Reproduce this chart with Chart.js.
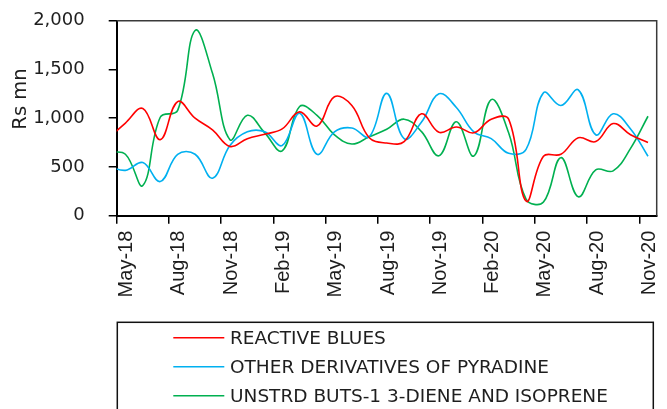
<!DOCTYPE html>
<html>
<head>
<meta charset="utf-8">
<script src="https://cdn.jsdelivr.net/npm/chart.js@4/dist/chart.umd.min.js"></script>
<style>
  html, body { margin: 0; padding: 0; background: #ffffff; }
  #wrap { width: 667px; height: 409px; position: relative; }
</style>
</head>
<body>
<div id="wrap"><canvas id="chart" width="667" height="409"></canvas></div>
<script>
// Monthly values, Rs mn (each month plotted at mid-month)
const months = [
  'Apr-18','May-18','Jun-18','Jul-18','Aug-18','Sep-18','Oct-18','Nov-18','Dec-18',
  'Jan-19','Feb-19','Mar-19','Apr-19','May-19','Jun-19','Jul-19','Aug-19','Sep-19','Oct-19','Nov-19','Dec-19',
  'Jan-20','Feb-20','Mar-20','Apr-20','May-20','Jun-20','Jul-20','Aug-20','Sep-20','Oct-20','Nov-20'
];
const reactiveBlues = [790, 950, 1100, 780, 1170, 1000, 880, 710, 790, 835, 890, 1065, 920, 1220, 1130, 800,
  745, 760, 1045, 855, 910, 850, 990, 990, 150, 610, 630, 800, 760, 945, 830, 750];
const pyradineDerivatives = [510, 465, 545, 350, 630, 630, 385, 720, 860, 860, 720, 1050, 630, 860, 900, 810,
  1255, 790, 960, 1250, 1110, 860, 790, 640, 680, 1260, 1130, 1290, 830, 1045, 890, 610];
const butadieneIsoprene = [650, 630, 310, 1010, 1080, 1900, 1460, 780, 1030, 850, 665, 1120, 1030, 830, 735, 810,
  886, 990, 862, 615, 964, 612, 1190, 850, 170, 140, 595, 195, 470, 460, 690, 1020];

// Axis labels every third month, starting May-18
const tickLabels = ['May-18','Aug-18','Nov-18','Feb-19','May-19','Aug-19','Nov-19','Feb-20','May-20','Aug-20','Nov-20'];
const seriesNames = ['REACTIVE BLUES', 'OTHER DERIVATIVES OF PYRADINE', 'UNSTRD BUTS-1 3-DIENE AND ISOPRENE'];
const seriesColors = ['#ff0000', '#00b0f0', '#00b050'];
const yTitle = 'Rs mn';

// x = months since 1 May 2018, at the middle of each month
const toPoints = values => values.map((v, i) => ({ x: i - 0.5, y: v }));

const textColor = '#1e1e1e';
const legendFont = '18.5px "DejaVu Sans"';

const frameAndLegend = {
  id: 'frameAndLegend',
  afterDatasetsDraw(chart) {
    const { ctx, chartArea: a } = chart;
    ctx.save();
    ctx.strokeStyle = '#3a3a3a';
    ctx.lineWidth = 1.5;
    ctx.beginPath();
    ctx.moveTo(a.left, a.top);
    ctx.lineTo(a.right, a.top);
    ctx.lineTo(a.right, a.bottom);
    ctx.stroke();
    ctx.restore();
  },
  afterDraw(chart) {
    const { ctx } = chart;
    ctx.save();
    // rotated y-axis title
    ctx.translate(21, 99);
    ctx.rotate(-Math.PI / 2);
    ctx.fillStyle = textColor;
    ctx.font = '19.5px "DejaVu Sans"';
    ctx.textAlign = 'center';
    ctx.textBaseline = 'middle';
    ctx.fillText(yTitle, 0, 0);
    ctx.restore();

    // boxed legend below the axis labels
    ctx.save();
    ctx.strokeStyle = '#111';
    ctx.lineWidth = 1.5;
    ctx.strokeRect(117.3, 322.3, 536, 120);
    chart.data.datasets.forEach((ds, i) => {
      const y = 337.7 + i * 29;
      ctx.strokeStyle = ds.borderColor;
      ctx.lineWidth = 1.5;
      ctx.beginPath();
      ctx.moveTo(173.3, y);
      ctx.lineTo(224.3, y);
      ctx.stroke();
      ctx.fillStyle = textColor;
      ctx.font = legendFont;
      ctx.textAlign = 'left';
      ctx.textBaseline = 'middle';
      ctx.fillText(ds.label, 230, y + 1);
    });
    ctx.restore();
  }
};

new Chart(document.getElementById('chart'), {
  type: 'line',
  data: {
    datasets: [reactiveBlues, pyradineDerivatives, butadieneIsoprene].map((vals, i) => ({
      label: seriesNames[i],
      data: toPoints(vals),
      borderColor: seriesColors[i],
      backgroundColor: seriesColors[i],
      borderWidth: 1.6,
      pointRadius: 0,
      tension: 0.4,
      fill: false
    }))
  },
  options: {
    responsive: false,
    animation: false,
    layout: { padding: { left: 0, top: 20.7, right: 10.3, bottom: 0 } },
    plugins: { legend: { display: false }, tooltip: { enabled: false } },
    scales: {
      x: {
        type: 'linear',
        min: 0,
        max: 31,
        afterFit: s => { s.height = 193.3; s.paddingLeft = 0; s.paddingRight = 0; },
        grid: { drawOnChartArea: false, drawTicks: true, tickLength: 8, color: '#000', lineWidth: 1.5 },
        border: { display: true, color: '#000', width: 2 },
        ticks: {
          stepSize: 3,
          includeBounds: false,
          autoSkip: false,
          minRotation: 90,
          maxRotation: 90,
          labelOffset: 10,
          padding: 7,
          color: textColor,
          font: { family: '"Liberation Sans"', size: 20 },
          callback: v => tickLabels[v / 3]
        }
      },
      y: {
        min: 0,
        max: 2000,
        afterFit: s => { s.width = 116.7; s.paddingTop = 0; s.paddingBottom = 0; },
        grid: { drawOnChartArea: false, drawTicks: true, tickLength: 8, color: '#000', lineWidth: 1.5 },
        border: { display: true, color: '#000', width: 2 },
        ticks: {
          stepSize: 500,
          padding: 24,
          color: textColor,
          font: { family: '"DejaVu Sans"', size: 18 },
          callback: v => v.toLocaleString('en-US')
        }
      }
    }
  },
  plugins: [frameAndLegend]
});
</script>
</body>
</html>
